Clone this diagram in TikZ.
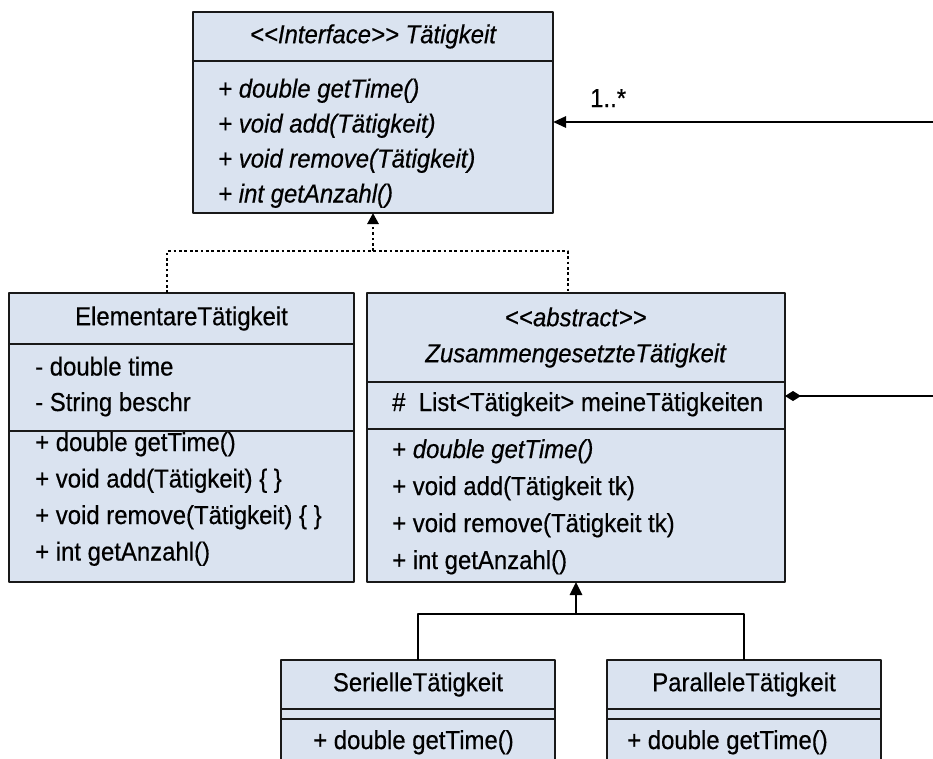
\documentclass[tikz,border=0pt]{standalone}
\usepackage{fontspec}
\setmainfont{Liberation Sans}[FakeStretch=0.92, FakeBold=0.5]
\usetikzlibrary{positioning,arrows.meta}
\definecolor{umlfill}{HTML}{DAE3F0}
\tikzset{
  part/.style={draw=black!90, fill=umlfill, line width=2pt, outer sep=0pt, inner sep=0pt},
  member/.style={anchor=base west, inner sep=0pt},
  link/.style={line width=2.7pt},
  dots/.style={line width=2.7pt, dash pattern=on 2.7pt off 2.7pt},
  realize/.style={dots, -{Triangle[length=11pt,width=11pt]}},
  inherit/.style={link, -{Triangle[length=13pt,width=12pt]}},
}

\begin{document}
\begin{tikzpicture}[x=1pt, y=-1pt, font=\fontsize{26}{36}\selectfont, line join=round]
    \clip (0,0) rectangle (933,758);
    \useasboundingbox (0,0) rectangle (933,758);
    % interface
    \node[part, anchor=north west, minimum width=360pt, minimum height=49pt, font=\fontsize{26}{36}\selectfont\itshape] (ifHead) at (193,12) {<{}<Interface>{}> Tätigkeit};
    \node[part, below=0pt of ifHead, minimum width=360pt, minimum height=152pt] (ifOps) {};
    \foreach \txt [count=\i] in {double getTime(), void add(Tätigkeit), void remove(Tätigkeit), int getAnzahl()}
        \node[member] (ifOp\i) at (218, 62.5+35*\i) {\textit{+ \txt}};
    % elementare
    \node[part, anchor=north west, minimum width=345pt, minimum height=51pt] (elemHead) at (9,293) {ElementareTätigkeit};
    \node[part, below=0pt of elemHead, minimum width=345pt, minimum height=87pt] (elemAttr) {};
    \node[part, below=0pt of elemAttr, minimum width=345pt, minimum height=151pt] (elemOps) {};
    \foreach \txt [count=\i] in {- double time, - String beschr}
        \node[member] (elemAt\i) at (35, 340+35.5*\i) {\txt};
    \foreach \txt [count=\i] in {+ double getTime(), + void add(Tätigkeit) \{ \}, + void remove(Tätigkeit) \{ \}, + int getAnzahl()}
        \node[member] (elemOp\i) at (35, 414.5+36.5*\i) {\txt};
    % zusammengesetzte
    \node[part, anchor=north west, minimum width=418pt, minimum height=89pt, align=center] (absHead) at (367,293) {<{}<\textit{abstract}>{}>\\\textit{ZusammengesetzteTätigkeit}};
    \node[part, below=0pt of absHead, minimum width=418pt, minimum height=47pt] (absAttr) {};
    \node[part, below=0pt of absAttr, minimum width=418pt, minimum height=153pt] (absOps) {};
    \node[member] (absAt1) at (392,411) {\#\ \ List<{}Tätigkeit>{} meineTätigkeiten};
    \foreach \txt [count=\i] in {{+ \textit{double getTime()}}, + void add(Tätigkeit tk), + void remove(Tätigkeit tk), + int getAnzahl()}
        \node[member] (absOp\i) at (392, 421+37*\i) {\txt};
    % seriell, parallel
    \node[part, anchor=north west, minimum width=274pt, minimum height=49pt] (serHead) at (281,660) {SerielleTätigkeit};
    \node[part, below=0pt of serHead, minimum width=274pt, minimum height=10pt] (serAttr) {};
    \node[part, below=0pt of serAttr, minimum width=274pt, minimum height=60pt] (serOps) {};
    \node[member] (serOp1) at (313,749) {+ double getTime()};
    \node[part, anchor=north west, minimum width=274pt, minimum height=49pt] (parHead) at (607,660) {ParalleleTätigkeit};
    \node[part, below=0pt of parHead, minimum width=274pt, minimum height=10pt] (parAttr) {};
    \node[part, below=0pt of parAttr, minimum width=274pt, minimum height=60pt] (parOps) {};
    \node[member] (parOp1) at (627,749) {+ double getTime()};
    % connectors
    \coordinate (assocEnd) at (940,122);
    \draw[link, -{Triangle[length=13pt,width=11pt]}] (assocEnd) -- (ifOps.east |- assocEnd);
    \node[member] (mult) at (590,107) {1..*};
    \coordinate (compEnd) at (940,396);
    \draw[link, -{Diamond[length=16pt,width=10pt]}] (compEnd) -- (absAttr.east |- compEnd);
    \path (ifOps.south) ++(0,38) coordinate (realMid);
    \draw[dots] ([xshift=-14.5pt]elemHead.north) |- (realMid) -| ([xshift=-8pt]absHead.north);
    \draw[realize] (realMid) -- (ifOps.south);
    \path (absOps.south) ++(0,32) coordinate (genMid);
    \draw[link] (serHead.north) |- (genMid) -| (parHead.north);
    \draw[inherit] (genMid) -- (absOps.south);
\end{tikzpicture}
\end{document}
